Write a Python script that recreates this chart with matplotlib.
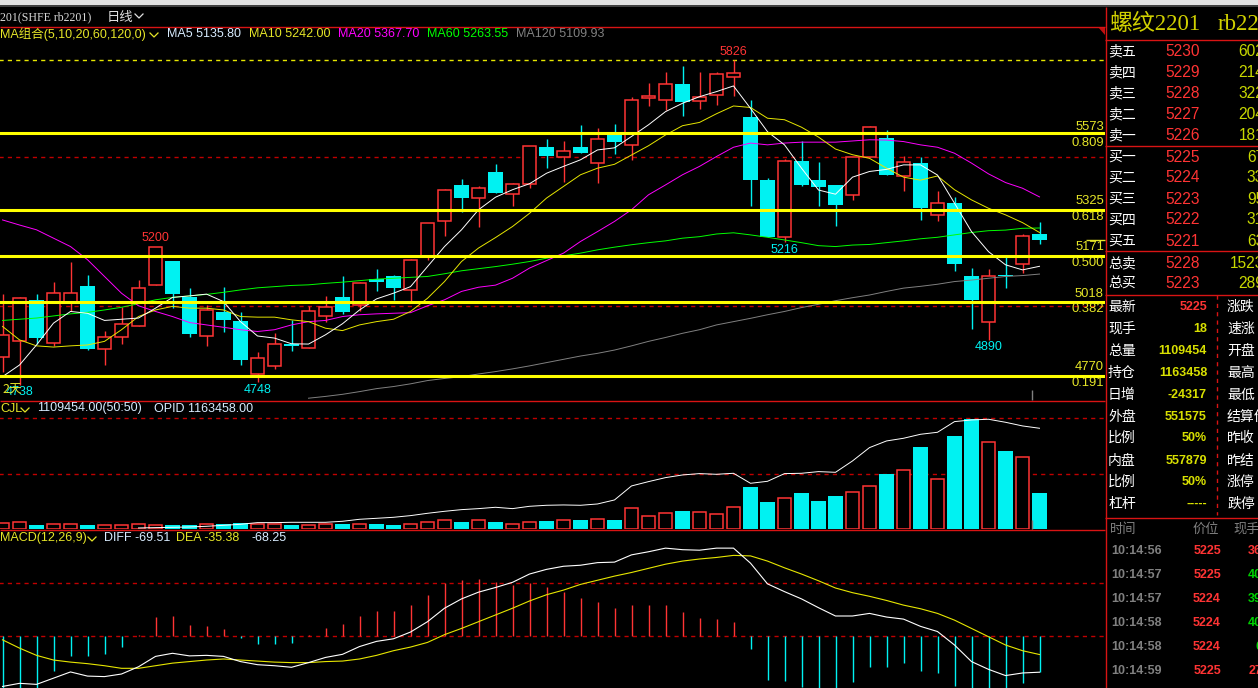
#!/usr/bin/python
# rb2201 daily chart, three panes plus the quote panel on the right

import numpy as np
import matplotlib
matplotlib.use("Agg")
import matplotlib.pyplot as plt

# Data

opens = [4832,4885,5024,4878,5015,5071,4861,4899,4938,5072,5154,5035,4902,4984,4954,4776,4801,4877,4862,4971,
         5034,5005,5093,5104,5056,5171,5287,5408,5363,5452,5379,5410,5535,5501,5535,5483,5574,5543,5697,5693,
         5745,5690,5710,5770,5635,5425,5235,5488,5425,5408,5376,5503,5565,5439,5482,5309,5348,5104,4951,5107,5142,5244]
closes = [4907,5029,4897,5046,5046,4860,4901,4942,5063,5200,5044,4910,4989,4957,4823,4829,4875,4868,4986,4999,
          4984,5080,5082,5062,5157,5280,5390,5365,5397,5381,5410,5537,5505,5520,5515,5561,5552,5691,5705,5745,
          5686,5701,5778,5781,5425,5233,5487,5408,5401,5341,5501,5601,5442,5484,5330,5347,5144,5024,5102,5102,5237,5225]
highs = [5044,5035,5044,5083,5150,5107,4920,5001,5091,5200,5154,5063,5007,5066,4983,4850,4912,4955,5004,5037,
         5104,5085,5126,5107,5160,5280,5394,5428,5405,5478,5416,5537,5561,5555,5608,5598,5612,5702,5750,5785,
         5806,5784,5785,5826,5692,5431,5495,5555,5485,5408,5503,5604,5592,5505,5501,5388,5367,5130,5127,5166,5243,5285]
lows = [4784,4738,4877,4871,4985,4857,4806,4877,4938,5072,4996,4898,4870,4915,4805,4748,4792,4854,4862,4951,
        4977,4988,5052,5024,5018,5158,5236,5319,5269,5381,5339,5399,5466,5419,5515,5414,5512,5492,5672,5659,
        5639,5662,5676,5706,5336,5233,5216,5403,5338,5271,5358,5503,5442,5388,5291,5288,5121,4928,4890,5064,5113,5211]

ma5 = [4767,4806,4873,4946,4985,4979,4955,4959,4963,4996,5032,5037,5043,5018,4951,4903,4896,4877,4876,4907,
       4944,4990,5027,5046,5068,5135,5202,5258,5325,5367,5392,5412,5447,5470,5492,5525,5532,5570,5609,5653,
       5681,5703,5720,5739,5664,5586,5542,5464,5391,5377,5434,5453,5460,5475,5475,5441,5347,5252,5185,5141,5124,5136]
ma10 = [4935,4890,4870,4866,4870,4873,4885,4924,4968,4990,5002,4996,4996,4990,4968,4966,4966,4957,4951,4929,
        4921,4940,4951,4959,4985,5029,5085,5152,5197,5232,5269,5313,5364,5403,5442,5464,5477,5508,5539,5575,
        5606,5617,5646,5672,5667,5631,5626,5601,5568,5528,5509,5497,5464,5434,5424,5438,5392,5358,5330,5308,5282,5249]
ma20 = [5291,5274,5258,5230,5202,5158,5102,5046,5004,4985,4968,4948,4940,4932,4924,4918,4924,4940,4951,4955,
        4968,4974,4977,4979,4981,5004,5024,5052,5066,5073,5096,5130,5155,5180,5219,5252,5286,5325,5375,5408,
        5442,5470,5503,5534,5548,5542,5548,5551,5551,5551,5555,5559,5558,5553,5542,5534,5514,5481,5445,5416,5397,5368]
ma60 = [4955,4959,4963,4970,4977,4982,4990,4999,5011,5024,5032,5037,5042,5049,5057,5064,5068,5072,5074,5079,
        5083,5088,5093,5096,5099,5102,5111,5121,5128,5135,5143,5152,5163,5171,5180,5191,5200,5208,5215,5221,
        5230,5235,5244,5248,5241,5233,5224,5215,5205,5202,5207,5209,5215,5221,5228,5233,5241,5249,5255,5257,5263,5264]
ma120 = [np.nan]*18 + [4695,4701,4708,4717,4727,4734,4743,4754,4761,4767,4776,4784,4793,4803,4814,4825,4836,4845,
         4856,4870,4885,4898,4912,4924,4940,4951,4962,4974,4985,4998,5009,5021,5031,5040,5052,5063,5069,5076,
         5085,5090,5096,5102,5105,5110]

fib_prices = [5580, 5325, 5171, 5018, 4770]
fib_labels = ["5573", "5325", "5171", "5018", "4770"]
fib_ratios = ["0.809", "0.618", "0.500", "0.382", "0.191"]
fib_label_y = [127, 201.5, 247, 294, 367]
fib_ratio_y = [143, 217, 263, 309, 383]
price_grid = [5503, 5002]
price_top = 5826

# thousand lots
volume = [183,214,122,153,153,122,122,122,153,122,122,122,153,153,183,153,153,122,122,153,
          153,153,153,122,153,214,275,224,275,224,153,214,255,275,285,306,285,642,397,489,
          560,520,459,673,1294,836,948,1111,866,1019,1131,1315,1692,1804,2517,1529,2853,3373,2660,2395,2201,1109]
vol_line = [np.nan]*8 + [41,51,61,71,92,122,153,204,204,214,214,214,245,306,336,367,418,489,550,601,632,673,632,703,
            734,744,734,774,897,1325,1457,1579,1661,1702,1681,1712,1406,1467,1702,1712,1763,1742,2089,2497,2700,2782,
            2904,2965,3291,3342,3363,3271,3159,3088]
vol_grid = [3414, 1702]

macd_bar = [-113,-113,-113,-68,-38,-39,-34,-21,3,37,39,22,20,14,-3,-15,-15,-13,3,16,
            24,39,49,49,60,80,103,109,111,105,98,103,95,86,74,66,55,60,60,60,
            47,35,33,28,-24,-84,-86,-98,-113,-113,-88,-59,-59,-51,-67,-71,-96,-113,-113,-113,-90,-68.25]
diff = [-97,-91,-93,-81,-69,-77,-78,-73,-59,-39,-33,-38,-37,-39,-49,-55,-57,-60,-51,-41,
        -35,-20,-10,-5,8,28,54,72,85,94,104,120,129,135,137,142,143,157,163,170,
        167,166,170,170,141,101,86,72,55,39,39,44,37,33,19,9,-17,-49,-64,-76,-71,-69.51]
dea = [-7,-23,-37,-46,-50,-53,-57,-62,-62,-57,-52,-49,-46,-44,-46,-48,-50,-51,-51,-49,
       -48,-44,-37,-28,-21,-12,3,15,28,41,54,68,80,89,100,108,116,123,131,139,
       145,149,152,156,155,145,132,120,107,93,84,77,69,60,53,44,31,15,-1,-17,-28,-35.38]
macd_grid = [102, 0]

depth_names = ["卖五","卖四","卖三","卖二","卖一","买一","买二","买三","买四","买五","总卖","总买"]
depth_prices = ["5230","5229","5228","5227","5226","5225","5224","5223","5222","5221","5228","5223"]
depth_qty = ["602","214","322","204","181","67","33","95","31","63","1523","289"]
depth_y = [51,72.5,93.5,114.5,135,157,178,199,220,241,263,284]

stat_names = ["最新","现手","总量","持仓","日增","外盘","比例","内盘","比例","杠杆"]
stat_values = ["5225","18","1109454","1163458","-24317","551575","50%","557879","50%","-----"]
stat_right = ["涨跌","速涨","开盘","最高","最低","结算价","昨收","昨结","涨停","跌停"]
stat_y = [307,329,351,373,395,417,438,461,482,504]

tick_times = ["10:14:56","10:14:57","10:14:57","10:14:58","10:14:58","10:14:59"]
tick_prices = ["5225","5225","5224","5224","5224","5225"]
tick_qty = ["36","40","39","40","6","27"]
tick_up = [True, False, False, False, False, True]
tick_y = [551,575,599,623,647,671]

# Styles

RED = "#ff3434"
CYAN = "#00f2f2"
YELLOW = "#ffff00"
LABEL = "#e6e628"
BORDER = "#d81414"
GRID = "#c00000"
SANS = ["Liberation Sans", "Noto Sans CJK SC"]
SERIF = ["Liberation Serif", "Noto Sans CJK SC"]
CJK = ["Noto Sans CJK SC", "DejaVu Sans"]
FS = 9
DASH = (0, (3, 3))

W, H = 1258, 688
CHART_W = 1105
fig = plt.figure(figsize=(W/100, H/100), dpi=100, facecolor="black")

def pane(top, bottom):
    ax = fig.add_axes([0, 1-bottom/H, CHART_W/W, (bottom-top)/H], facecolor="black")
    ax.set_axis_off()
    ax.set_xlim(-2.5/17, (CHART_W-2.5)/17)
    return ax

x = np.arange(len(closes))
opens, closes, highs, lows = map(np.array, (opens, closes, highs, lows))
up = closes >= opens
bar_colors = [RED if u else CYAN for u in up]

# Price pane
ax = pane(27, 400)
ax.set_ylim(4689, 5936)
ax.vlines(x, lows, highs, colors=bar_colors, lw=1.0, zorder=2, snap=True)
ax.bar(x[up], (closes-opens)[up], bottom=opens[up], width=0.81, facecolor="black", edgecolor=RED, lw=1.1, zorder=3)
ax.bar(x[~up], (opens-closes)[~up], bottom=closes[~up], width=0.88, facecolor=CYAN, edgecolor=CYAN, lw=0, zorder=3)
ax.plot(x, ma120, color="#808080", lw=0.7, zorder=4)
ax.plot(x, ma60, color="#00ff00", lw=0.7, zorder=4)
ax.plot(x, ma20, color="#ff00ff", lw=0.7, zorder=4)
ax.plot(x, ma10, color="#e6e600", lw=0.7, zorder=4)
ax.plot(x, ma5, color="#ffffff", lw=0.7, zorder=4)
ax.hlines(price_grid, -1, 70, colors=GRID, lw=1.0, linestyles=DASH, zorder=1, snap=True)
ax.hlines(price_top, -1, 70, colors="#e6e600", lw=1.0, linestyles=DASH, zorder=1, snap=True)
ax.hlines(fib_prices, -1, 70, colors=YELLOW, lw=2.2, zorder=5, snap=True)

for idx, price, col, dy in [(9, 5200, RED, 6.5), (15, 4748, CYAN, -5.4), (43, 5826, RED, 5.8),
                            (46, 5216, CYAN, -5.4), (58, 4890, CYAN, -5), (1, 4738, CYAN, -4.7)]:
    ax.annotate(str(price), (idx, price), xytext=(0, dy), textcoords="offset points", ha="center", va="center",
                color=col, fontsize=FS, family=SANS, zorder=6, annotation_clip=False)

# Volume pane
ax = pane(401, 529.3)
ax.set_ylim(0, 3921)
vol = np.array(volume)
ax.bar(x[up], vol[up], width=0.81, facecolor="black", edgecolor=RED, lw=1.1, zorder=3)
ax.bar(x[~up], vol[~up], width=0.88, facecolor=CYAN, lw=0, zorder=3)
ax.plot(x, vol_line, color="#ffffff", lw=0.7, zorder=4)
ax.hlines(vol_grid, -1, 70, colors=GRID, lw=1.0, linestyles=DASH, zorder=1, snap=True)

# MACD pane
ax = pane(530, 688)
ax.set_ylim(-100, 205)
bar_vals = np.array(macd_bar)
ax.vlines(x, 0, bar_vals, colors=[RED if v > 0 else CYAN for v in bar_vals], lw=1.0, zorder=2, snap=True)
ax.plot(x, dea, color="#e6e600", lw=0.8, zorder=3)
ax.plot(x, diff, color="#ffffff", lw=0.8, zorder=3)
ax.hlines(macd_grid, -1, 70, colors=GRID, lw=1.0, linestyles=DASH, zorder=1, snap=True)

# Overlay in pixel coordinates for the frame and all the screen text
ov = fig.add_axes([0, 0, 1, 1], facecolor="none")
ov.set_axis_off()
ov.set_xlim(0, W)
ov.set_ylim(H, 0)

def txt(px, py, s, color="#ffffff", ha="left", size=FS, family=SANS, weight="normal"):
    ov.text(px, py, s, color=color, ha=ha, va="center", fontsize=size, family=family, fontweight=weight)

def chevron(px, py, color):
    ov.plot([px, px+4, px+8], [py-2, py+2, py-2], color=color, lw=0.9)

def rule(xs, ys, color=BORDER, **kw):
    ov.plot(xs, ys, color=color, lw=1.0, solid_capstyle="butt", snap=True, **kw)

ov.fill_between([0, W], 0, 5, color="#e2e2e2", lw=0)
ov.fill_between([0, W], 5, 7, color="#404040", lw=0)
rule([0, CHART_W], [26.5, 26.5])
rule([0, CHART_W], [400.5, 400.5])
rule([0, CHART_W], [529.5, 529.5])
rule([CHART_W+0.5, CHART_W+0.5], [7, H])
ov.fill([1098, CHART_W, CHART_W], [27, 27, 35], color="#c01010", lw=0)
rule([1031.5, 1031.5], [390, 400], color="#808080")
rule([1031.5, 1031.5], [520, 529], color="#808080")
for py in [39.5, 146, 251, 295, 517.5]:
    rule([CHART_W, W], [py, py])
ov.plot([1217, 1217], [295, 515], color=BORDER, lw=1.0, linestyle=DASH, snap=True)
rule([1086, CHART_W], [239.5, 239.5], color=LABEL)

# Header lines
txt(0, 17, "201(SHFE rb2201)", color="#d8d8d8", size=8.6, family=SERIF)
txt(107, 17, "日线", color="#e0e0e0", family=CJK, size=9.6)
chevron(135, 16, "#e0e0e0")
txt(0, 34, "MA组合(5,10,20,60,120,0)", color=LABEL)
chevron(150, 35, LABEL)
txt(167, 34, "MA5 5135.80", color="#d8ecff")
txt(249, 34, "MA10 5242.00", color=LABEL)
txt(338, 34, "MA20 5367.70", color="#ff00ff")
txt(427, 34, "MA60 5263.55", color="#00ff00")
txt(516, 34, "MA120 5109.93", color="#808080")
txt(0, 408.5, "CJL", color=LABEL)
chevron(21, 410, LABEL)
txt(37, 408.5, "1109454.00(50:50)", color="#d8ecff")
txt(154, 408.5, "OPID 1163458.00", color="#d8ecff")
txt(0, 538, "MACD(12,26,9)", color=LABEL)
chevron(88, 539, LABEL)
txt(104, 538, "DIFF -69.51", color="#d8ecff")
txt(176, 538, "DEA -35.38", color=LABEL)
txt(251, 538, "-68.25", color="#d8ecff")
txt(2, 390, "2天", color=LABEL, family=CJK)

# Fibonacci labels
for lab, ratio, ly, ry in zip(fib_labels, fib_ratios, fib_label_y, fib_ratio_y):
    txt(1104, ly, lab, color=LABEL, ha="right", size=9.4)
    txt(1104, ry, ratio, color=LABEL, ha="right", size=9.4)

# Quote panel
txt(1109, 24, "螺纹2201", color="#d0d000", size=16.5, family=SERIF)
txt(1218, 24, "rb22", color="#d0d000", size=16.5, family=SERIF)
for name, price, qty, py in zip(depth_names, depth_prices, depth_qty, depth_y):
    txt(1108, py, name, family=CJK, size=10)
    txt(1200, py, price, color=RED, ha="right", size=11.2)
    txt(1264, py, qty, color="#c8d800", ha="right", size=11.2)

stat_colors = [RED] + ["#d8e000"]*9
for name, val, right, col, py in zip(stat_names, stat_values, stat_right, stat_colors, stat_y):
    txt(1108, py, name, family=CJK, size=10)
    txt(1207, py, val, color=col, ha="right", weight="bold")
    txt(1227, py, right, family=CJK, size=10)

txt(1110, 529, "时间", color="#808080", family=CJK, size=9.5)
txt(1193, 529, "价位", color="#808080", family=CJK, size=9.5)
txt(1233, 529, "现手", color="#808080", family=CJK, size=9.5)
for t, p, q, u, py in zip(tick_times, tick_prices, tick_qty, tick_up, tick_y):
    txt(1111, py, t, color="#808080", weight="bold")
    txt(1221, py, p, color=RED, ha="right", weight="bold")
    txt(1262, py, q, color=RED if u else "#00d000", ha="right", weight="bold")

fig.savefig("out.png", dpi=100, facecolor="black")
